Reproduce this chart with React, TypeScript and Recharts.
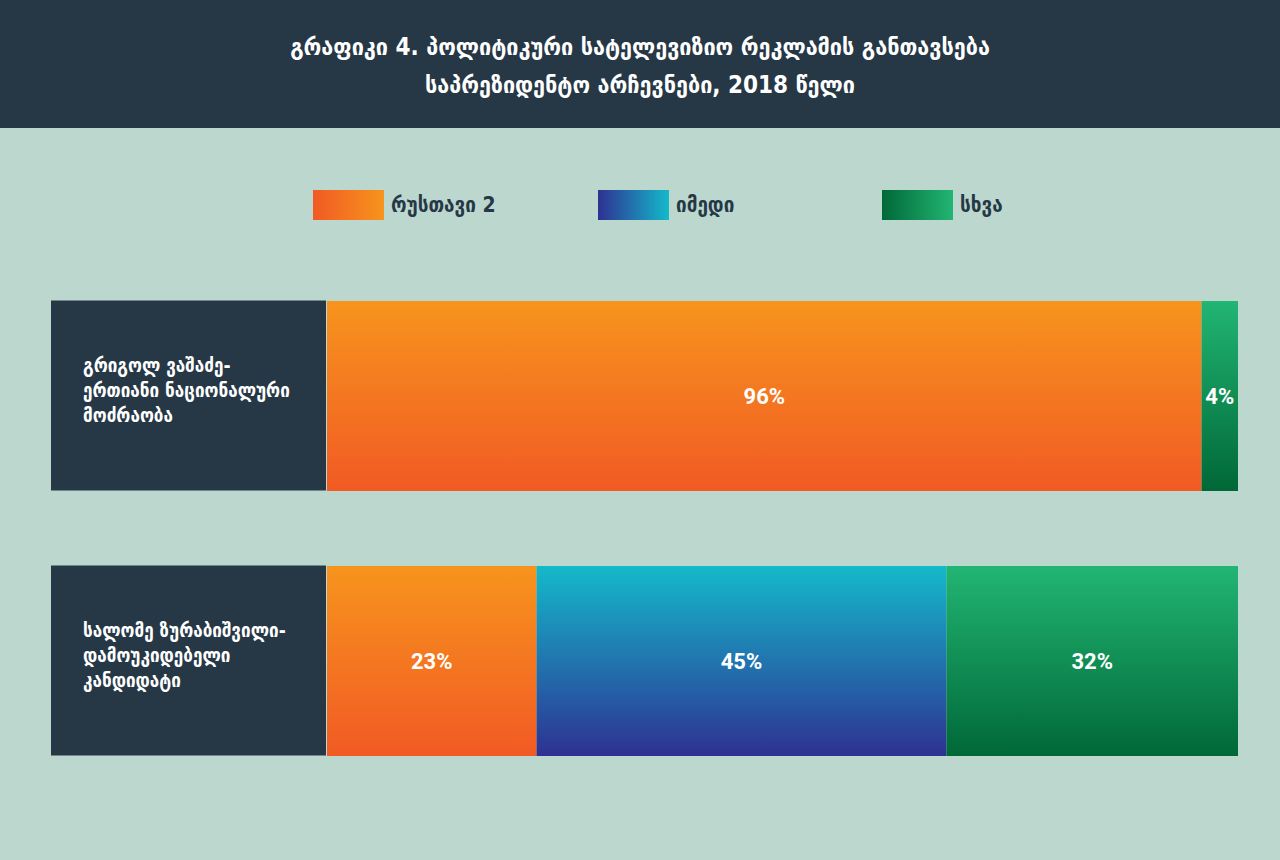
import React from "react";
import { BarChart, Bar, XAxis, YAxis, LabelList } from "recharts";

const titleLines = [
  "გრაფიკი 4. პოლიტიკური სატელევიზიო რეკლამის განთავსება",
  "საპრეზიდენტო არჩევნები, 2018 წელი",
];
const categories = [
  ["გრიგოლ ვაშაძე-", "ერთიანი ნაციონალური", "მოძრაობა"],
  ["სალომე ზურაბიშვილი-", "დამოუკიდებელი", "კანდიდატი"],
];
const seriesNames = ["რუსთავი 2", "იმედი", "სხვა"];
const rustavi2 = [96, 23];
const imedi = [0, 45];
const other = [4, 32];

const seriesKeys = ["rustavi2", "imedi", "other"];
const gradTop = ["#f7941d", "#14b9cb", "#22b573"];
const gradBottom = ["#f15a24", "#2e3192", "#006837"];

const data = categories.map((c, i) => ({
  name: c.join("\n"),
  rustavi2: rustavi2[i],
  imedi: imedi[i],
  other: other[i],
}));

const DARK = "#263746";
const BG = "#bcd8ce";
const GEO_FONT = "'DejaVu Sans Condensed', 'DejaVu Sans', sans-serif";

const CategoryTick = (props: any) => {
  const { y, payload } = props;
  const lines: string[] = String(payload.value).split("\n");
  const lineH = 25;
  const startY = y - ((lines.length - 1) * lineH) / 2 - 6;
  return (
    <g>
      <rect x={51} y={y - 95} width={275} height={190} fill={DARK} />
      <text
        x={83}
        y={startY}
        fill="#ffffff"
        fontFamily={GEO_FONT}
        fontWeight="bold"
        fontSize={19}
      >
        {lines.map((l, i) => (
          <tspan key={i} x={83} y={startY + i * lineH} dominantBaseline="central">
            {l}
          </tspan>
        ))}
      </text>
    </g>
  );
};

const renderValueLabel = (props: any) => {
  const { x, y, width, height, value } = props;
  if (!value) return null;
  return (
    <text
      x={x + width / 2}
      y={y + height / 2}
      fill="#ffffff"
      fontFamily="Roboto, sans-serif"
      fontWeight="bold"
      fontSize={22}
      textAnchor="middle"
      dominantBaseline="central"
    >
      {value + "%"}
    </text>
  );
};

const LegendBlock = () => {
  const lefts = [313, 598, 882];
  return (
    <div style={{ position: "absolute", left: 0, top: 190, width: 1280, height: 30 }}>
      {seriesNames.map((n, i) => (
        <div
          key={n}
          style={{ position: "absolute", left: lefts[i], top: 0, height: 30, display: "flex", alignItems: "center" }}
        >
          <div
            style={{
              width: 71,
              height: 30,
              background: `linear-gradient(to right, ${gradBottom[i]}, ${gradTop[i]})`,
            }}
          />
          <span
            style={{
              marginLeft: 7,
              color: DARK,
              fontFamily: GEO_FONT,
              fontWeight: "bold",
              fontSize: 21,
            }}
          >
            {n}
          </span>
        </div>
      ))}
    </div>
  );
};

export default function App() {
  return (
    <div style={{ position: "absolute", left: 0, top: 0, width: 1280, height: 860, background: BG, overflow: "hidden" }}>
      <div
        style={{
          position: "absolute",
          left: 0,
          top: 0,
          width: 1280,
          height: 128,
          background: DARK,
          color: "#ffffff",
          fontFamily: GEO_FONT,
          fontWeight: "bold",
          fontSize: 24,
          textAlign: "center",
          zIndex: 2,
        }}
      >
        <div style={{ position: "absolute", top: 28, width: "100%", lineHeight: "38px" }}>
          {titleLines.map((t) => (
            <div key={t}>{t}</div>
          ))}
        </div>
      </div>
      <div style={{ position: "absolute", left: 0, top: 0 }}>
        <BarChart
          width={1280}
          height={860}
          data={data}
          layout="vertical"
          margin={{ top: 263, right: 42, bottom: 67, left: 51 }}
          barCategoryGap={0}
        >
          <defs>
            {seriesKeys.map((k, i) => (
              <linearGradient key={k} id={"grad-" + k} x1="0" y1="0" x2="0" y2="1">
                <stop offset="0%" stopColor={gradTop[i]} />
                <stop offset="100%" stopColor={gradBottom[i]} />
              </linearGradient>
            ))}
          </defs>
          <XAxis type="number" domain={[0, 100]} hide />
          <YAxis
            type="category"
            dataKey="name"
            width={276}
            axisLine={false}
            tickLine={false}
            tick={<CategoryTick />}
            interval={0}
          />
          {seriesKeys.map((k, i) => (
            <Bar
              key={k}
              dataKey={k}
              name={seriesNames[i]}
              stackId="s"
              fill={`url(#grad-${k})`}
              barSize={190}
              isAnimationActive={false}
            >
              <LabelList dataKey={k} content={renderValueLabel} />
            </Bar>
          ))}
        </BarChart>
      </div>
      <LegendBlock />
    </div>
  );
}
